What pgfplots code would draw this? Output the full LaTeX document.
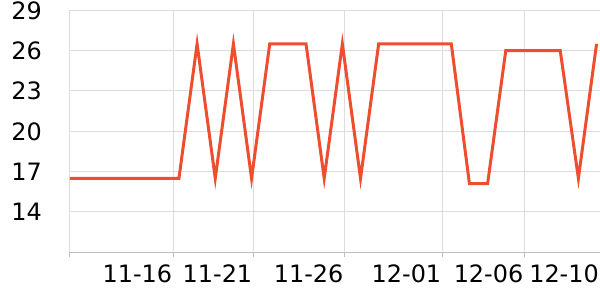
\documentclass[border=0pt]{standalone}
\usepackage{pgfplots}
\pgfplotsset{compat=1.18}
\usepackage{fontspec}
\setmainfont{DejaVu Sans}
\definecolor{lineC}{RGB}{238,77,46}
\definecolor{gridC}{RGB}{221,221,221}
\definecolor{axC}{RGB}{190,190,190}
\begin{document}
\begin{tikzpicture}
\path[use as bounding box] (-70bp,-47.7bp) rectangle (530bp,252.3bp);
\begin{axis}[
  at={(0,0)}, anchor=south west,
  scale only axis, width=530bp, height=242bp,
  xmin=0, xmax=29.19, ymin=11, ymax=29,
  axis x line*=bottom, axis y line*=left,
  y axis line style={draw=none},
  x axis line style={draw=axC, line width=1bp},
  xtick={0,5.69,10.10,15.12,20.51,25.03},
  xticklabels={,11-16,11-21,11-26,12-01,12-06},
  extra x ticks={29.19}, extra x tick labels={12-10},
  extra x tick style={grid=none, xtick style={draw=none}},
  ytick={14,17,20,23,26,29},
  xmajorgrids, ymajorgrids,
  grid style={draw=gridC, line width=1bp},
  tick align=outside,
  major tick length=5bp,
  xtick style={draw=axC, line width=1bp},
  ytick style={draw=none},
  ticklabel style={font=\fontsize{24}{28}\selectfont},
  xticklabel style={anchor=north east, inner sep=0pt, yshift=-7.7bp, xshift=-1bp},
  yticklabel style={anchor=east, inner sep=0pt, xshift=-23bp},
  /pgf/number format/assume math mode=true,
]
\addplot[lineC, line width=3bp, line join=miter] coordinates {
(0,16.5) (1,16.5) (2,16.5) (3,16.5) (4,16.5) (5,16.5) (6,16.5)
(7,26.5) (8,16.5) (9,26.5) (10,16.5) (11,26.5) (12,26.5) (13,26.5)
(14,16.5) (15,26.5) (16,16.5) (17,26.5) (18,26.5) (19,26.5) (20,26.5) (21,26.5)
(22,16.1) (23,16.1) (24,26.0) (25,26.0) (26,26.0) (27,26.0) (28,16.5) (29,26.5)
};
\end{axis}
\end{tikzpicture}
\end{document}
